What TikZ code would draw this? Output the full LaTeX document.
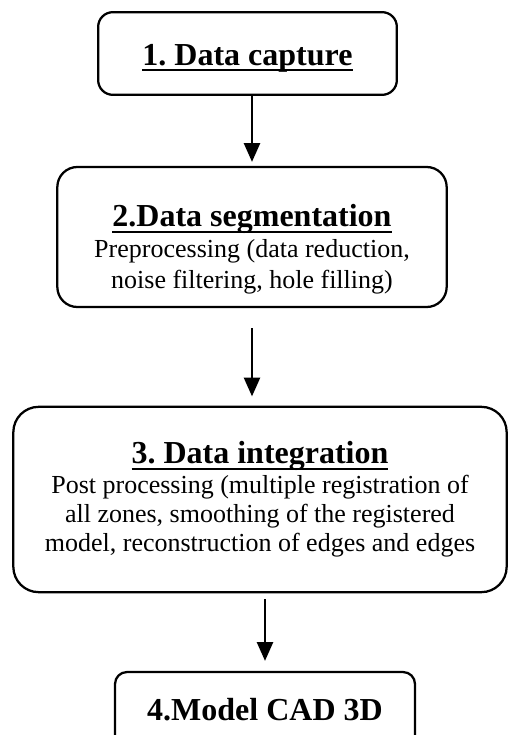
\documentclass[tikz,border=0pt]{standalone}
\usepackage{fontspec}
\setmainfont{Liberation Serif}
\usetikzlibrary{arrows.meta}
\frenchspacing

\newcommand{\steptitle}[1]{{\fontsize{24}{28}\selectfont\bfseries
  \setbox0\hbox{#1}\rlap{\rule[-4.5pt]{\wd0}{1.6pt}}\box0}}

\begin{document}
\begin{tikzpicture}[x=0.75pt,y=0.75pt,yscale=-1,xscale=1,
  stepbox/.style={draw, line width=1.7pt, align=center, inner sep=0pt,
    font=\fontsize{19.5}{22}\selectfont},
  arr/.style={line width=1.6pt, -{Triangle[width=12pt,length=14pt]}}]
\useasboundingbox (0,0) rectangle (509,735);
\clip (0,0) rectangle (509,735);

%Rounded Rect 1
\node [stepbox, rounded corners=11pt, minimum width=224pt, minimum height=62pt] (capture) at (247.5,53.5)
  {\rule{0pt}{23pt}\steptitle{1. Data capture}};
%Rounded Rect 2
\node [stepbox, rounded corners=15pt, minimum width=292pt, minimum height=105pt] (segment) at (252,237)
  {\rule{0pt}{35pt}\steptitle{2.Data segmentation}\\[1pt]
   Preprocessing (data reduction,\\[1pt]
   noise filtering, hole filling)};
%Rounded Rect 3
\node [stepbox, rounded corners=19pt, minimum width=370pt, minimum height=139pt] (integr) at (260,499.5)
  {\steptitle{3. Data integration}\\
   Post processing (multiple registration of\\
   all zones, smoothing of the registered\\
   model, reconstruction of edges and edges};
%Rounded Rect 4
\node [stepbox, rounded corners=9pt, minimum width=225pt, minimum height=57pt] (cad) at (265,710)
  {\textbf{\fontsize{24}{28}\selectfont 4.Model CAD 3D}};

%Straight Lines
\draw [arr, shorten >=3pt] (capture.south -| segment.north) -- (segment.north);
\draw [arr, shorten <=15pt, shorten >=7pt] (segment.south) -- (segment.south |- integr.north);
\draw [arr, shorten <=4.5pt, shorten >=7.5pt] (integr.south -| cad.north) -- (cad.north);

\end{tikzpicture}
\end{document}
